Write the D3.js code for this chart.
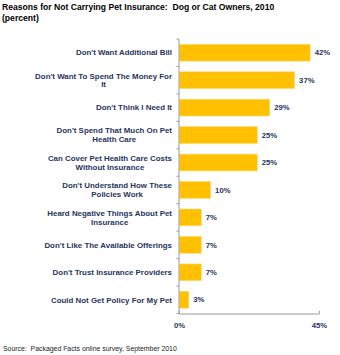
<!DOCTYPE html>
<html>
<head>
<meta charset="utf-8">
<script src="https://cdn.jsdelivr.net/npm/d3@7"></script>
<style>
  body { margin: 0; background: #fff; }
  text { font-family: "Liberation Sans", Arial, sans-serif; }
  .label { font-size: 7.9px; font-weight: bold; fill: #1f3560; }
  .value { font-size: 7.7px; font-weight: bold; fill: #1f3560; }
  .axis path, .axis line { stroke: #999; }
</style>
</head>
<body>
<svg id="chart" width="340" height="355"></svg>
<script>
const reasons = [
  ["Don't Want Additional Bill"],
  ["Don't Want To Spend The Money For", "It"],
  ["Don't Think I Need It"],
  ["Don't Spend That Much On Pet", "Health Care"],
  ["Can Cover Pet Health Care Costs", "Without Insurance"],
  ["Don't Understand How These", "Policies Work"],
  ["Heard Negative Things About Pet", "Insurance"],
  ["Don't Like The Available Offerings"],
  ["Don't Trust Insurance Providers"],
  ["Could Not Get Policy For My Pet"]
];
const percents = [42, 37, 29, 25, 25, 10, 7, 7, 7, 3];
const xTicks = [0, 45];

const svg = d3.select('#chart');
const x0 = 179, x1 = 319;
const y0 = 39, y1 = 313.5;

const xScale = d3.scaleLinear().domain([0, 45]).range([x0, x1]);
const yScale = d3.scaleBand().domain(d3.range(reasons.length)).range([y0, y1]).paddingInner(0.39).paddingOuter(0.195);

// Title
svg.append('text').attr('x', 2).attr('y', 10)
  .style('font-size', '8.6px').style('font-weight', 'bold').attr('fill', '#000')
  .text('Reasons for Not Carrying Pet Insurance:\u00a0 Dog or Cat Owners, 2010');
svg.append('text').attr('x', 2).attr('y', 20.5)
  .style('font-size', '8.6px').style('font-weight', 'bold').attr('fill', '#000')
  .text('(percent)');

// Bars
svg.append('g').selectAll('rect')
  .data(percents)
  .enter().append('rect')
  .attr('x', xScale(0) + 0.5)
  .attr('y', (_, i) => yScale(i))
  .attr('width', d => xScale(d) - xScale(0))
  .attr('height', yScale.bandwidth())
  .attr('fill', '#ffc000')
  .attr('stroke', '#ffd966')
  .attr('stroke-width', 0.6);

// Value labels
svg.append('g').selectAll('text')
  .data(percents)
  .enter().append('text')
  .attr('class', 'value')
  .attr('x', d => xScale(d) + 5)
  .attr('y', (_, i) => yScale(i) + yScale.bandwidth() / 2)
  .attr('dy', '0.35em')
  .text(d => d + '%');

// Category labels, right aligned; a second line is centred under the first
const lab = svg.append('g').selectAll('text')
  .data(reasons)
  .enter().append('text')
  .attr('class', 'label')
  .attr('y', (_, i) => yScale(i) + yScale.bandwidth() / 2);
lab.each(function (lines) {
  const t = d3.select(this);
  const n = lines.length;
  lines.forEach((l, k) => {
    t.append('tspan').text(l)
      .attr('x', 172)
      .attr('text-anchor', 'end')
      .attr('dy', k === 0 ? ((0.35 - (n - 1) * 0.55) + 'em') : '1.1em');
  });
  if (n > 1) {
    const spans = t.selectAll('tspan').nodes();
    const w0 = spans[0].getComputedTextLength();
    spans[1].setAttribute('text-anchor', 'middle');
    spans[1].setAttribute('x', 172 - w0 / 2);
  }
});

// Y axis with ticks between bands
const yAxisG = svg.append('g').attr('class', 'axis');
yAxisG.append('line').attr('x1', x0).attr('x2', x0).attr('y1', y0).attr('y2', y1);
yAxisG.selectAll('.tk')
  .data(d3.range(reasons.length + 1))
  .enter().append('line')
  .attr('x1', x0 - 2.5).attr('x2', x0)
  .attr('y1', i => y0 + i * yScale.step())
  .attr('y2', i => y0 + i * yScale.step());

// X axis
svg.append('g')
  .attr('class', 'axis')
  .attr('transform', `translate(0,${y1})`)
  .call(d3.axisBottom(xScale).tickValues(xTicks).tickSize(-2.5).tickSizeOuter(0).tickFormat(d => d + '%'))
  .call(g => g.selectAll('text').attr('class', 'value').attr('dy', '0').attr('y', 14).attr('fill', '#1f3560'));

// Source
svg.append('text').attr('x', 3).attr('y', 351)
  .style('font-size', '6.9px').attr('fill', '#222')
  .text('Source:\u00a0 Packaged Facts online survey, September 2010');
</script>
</body>
</html>
